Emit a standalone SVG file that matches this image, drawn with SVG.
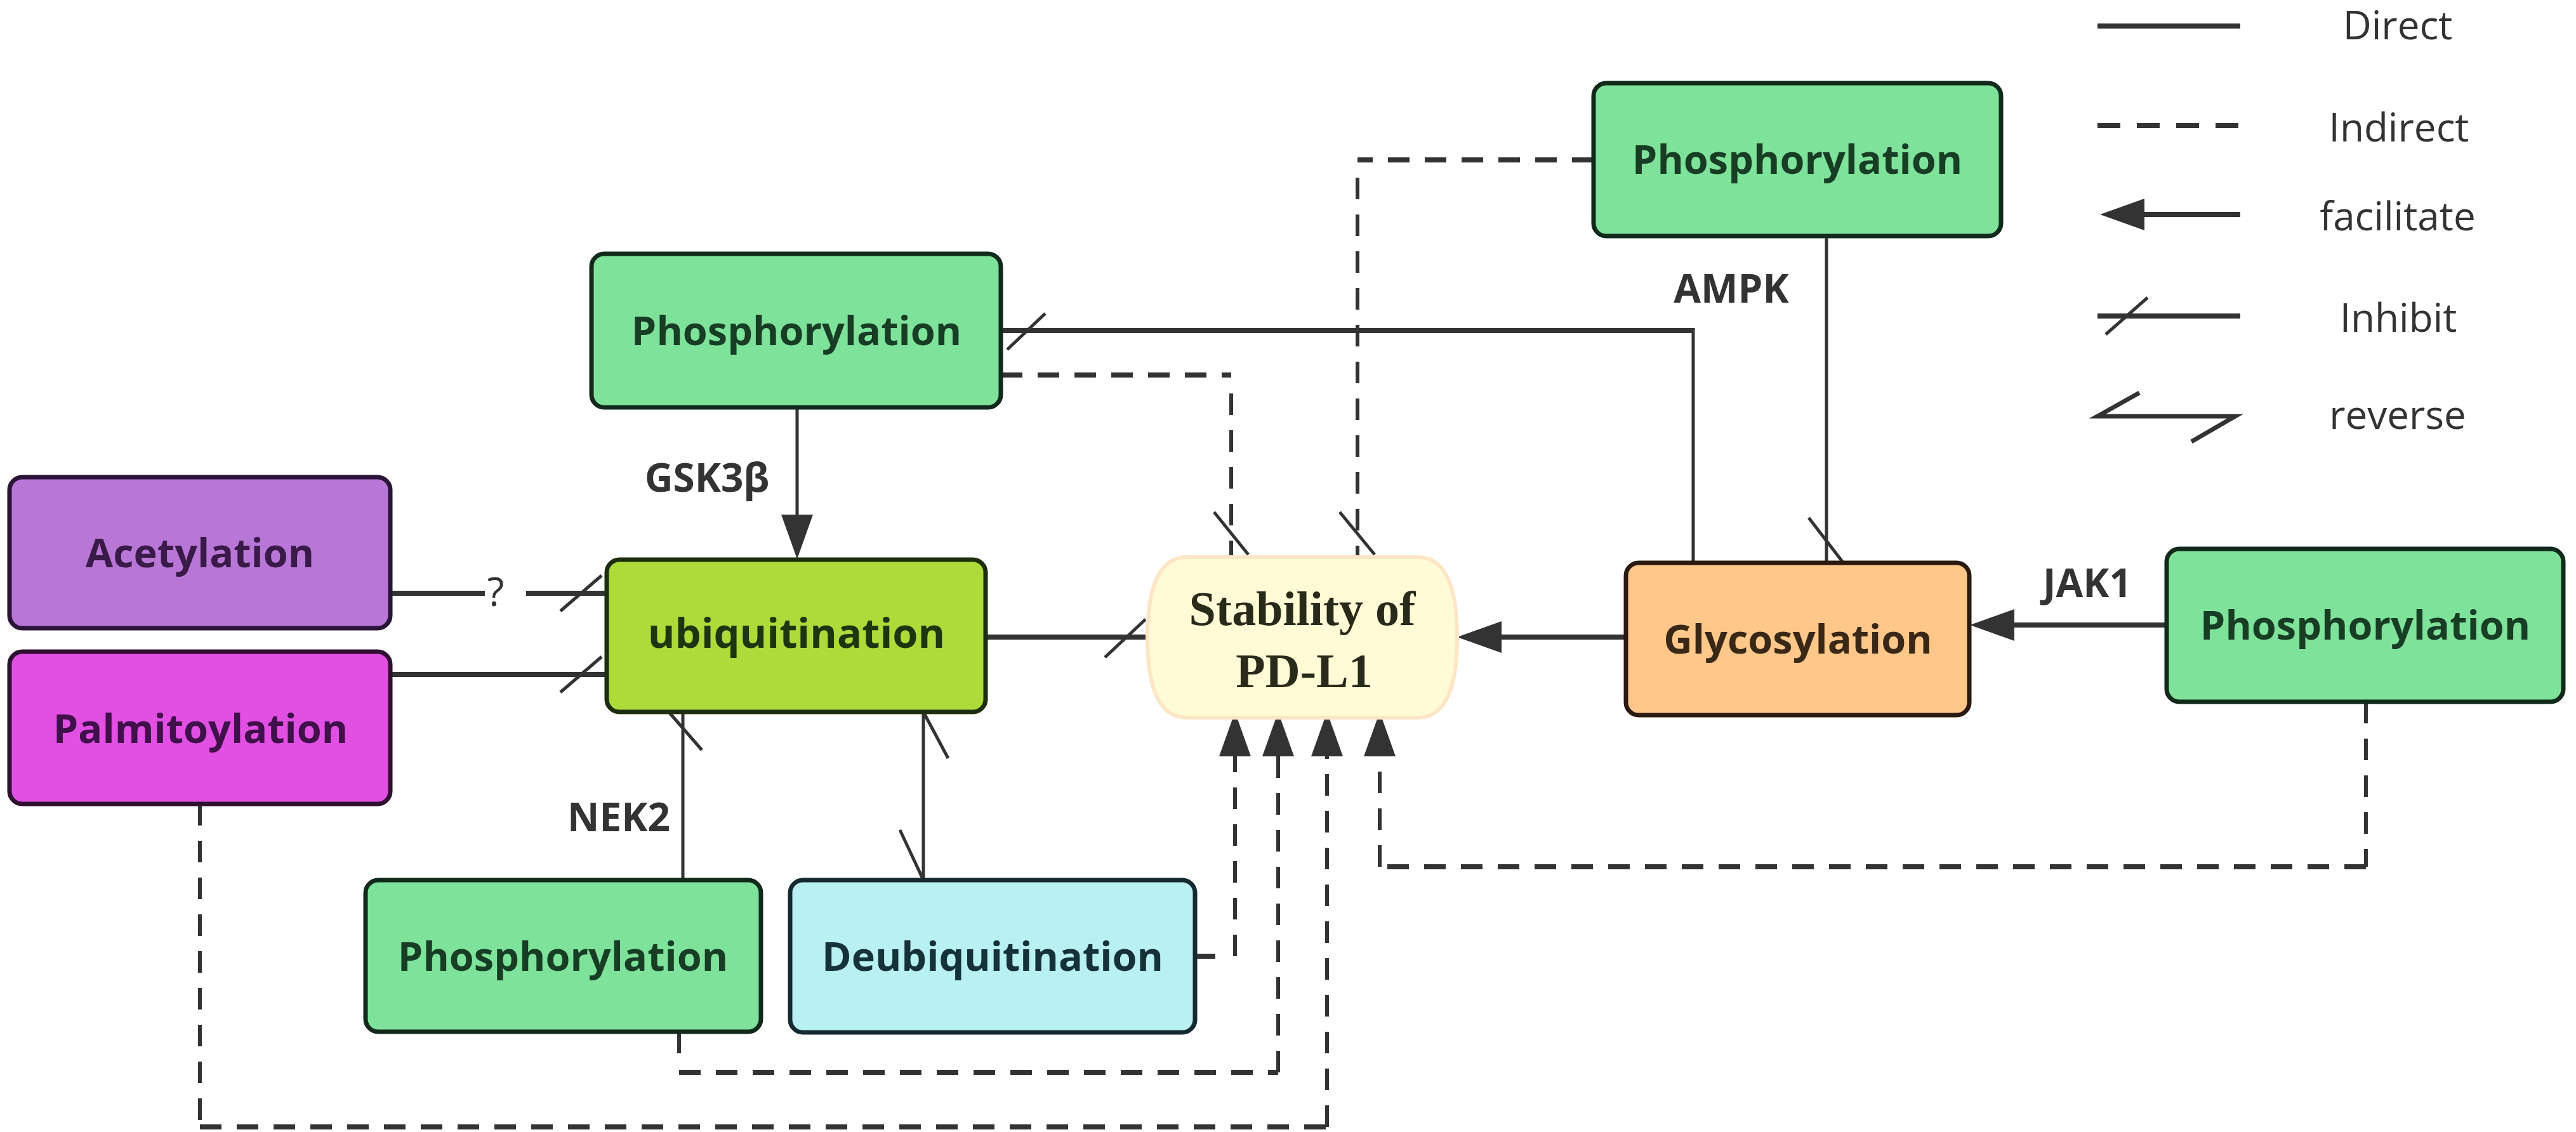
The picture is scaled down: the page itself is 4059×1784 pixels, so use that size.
<svg xmlns="http://www.w3.org/2000/svg" width="4059" height="1784" viewBox="0 0 4059 1784">
<defs>
<style>
.box{stroke-width:7}
.lbl{font-family:"Open Sans","DejaVu Sans",sans-serif;font-weight:700;font-size:63px;text-anchor:middle}
.tag{font-family:"Open Sans","DejaVu Sans",sans-serif;font-weight:700;font-size:62px;fill:#333;text-anchor:middle}
.leg{font-family:"Open Sans","DejaVu Sans",sans-serif;font-weight:400;font-size:62px;fill:#333;text-anchor:middle}
.ln{fill:none;stroke:#333;stroke-width:8}
.thin{fill:none;stroke:#333;stroke-width:5}
.dash{fill:none;stroke:#333;stroke-width:8;stroke-dasharray:34 24}
.vdash{fill:none;stroke:#333;stroke-width:6;stroke-dasharray:34 24}
.arr{marker-end:url(#ah)}
.green rect{fill:#7ee29a;stroke:#112a1b}
.green text{fill:#173d24}
</style>
<marker id="ah" viewBox="0 -25 70 50" refX="0" refY="0" markerWidth="70" markerHeight="50" markerUnits="userSpaceOnUse" orient="auto">
<path d="M0,-25 L70,0 L0,25 Z" fill="#333"/>
</marker>
</defs>
<rect x="0" y="0" width="4059" height="1784" fill="#fff"/>

<g id="connectors">
<!-- solid -->
<path class="ln" d="M1577,521 H2668"/>
<path class="thin" d="M2668,517 V887"/>
<path class="thin" d="M2878,372 V887"/>
<path class="thin arr" d="M1256,642 V811"/>
<path class="ln" d="M616,935 H764 M829,935 H956"/>
<path class="ln" d="M616,1063 H956"/>
<path class="ln" d="M1553,1004 H1808"/>
<path class="ln arr" d="M2562,1004 H2366"/>
<path class="ln arr" d="M3414,985 H3174"/>
<path class="thin" d="M1076,1387 V1122"/>
<path class="thin" d="M1455,1122 V1387 M1455,1122 L1494,1195 M1455,1387 L1418,1308"/>
<!-- dashed -->
<path class="dash" d="M1577,591 H1940"/>
<path class="vdash" d="M1940,620 V878"/>
<path class="dash" d="M2511,252 H2139"/>
<path class="vdash" d="M2139,280 V878"/>
<path class="vdash" d="M3728,1106 V1366"/>
<path class="dash" d="M3728,1366 H2174"/>
<path class="vdash arr" d="M2174,1366 V1192"/>
<path class="ln" d="M1883,1507 H1915"/>
<path class="vdash arr" d="M1946,1507 V1192"/>
<path class="vdash" d="M1070,1626 V1665"/>
<path class="dash" d="M1070,1690 H2014"/>
<path class="vdash arr" d="M2014,1690 V1192"/>
<path class="vdash" d="M315,1267 V1776"/>
<path class="dash" d="M315,1776 H2091"/>
<path class="vdash arr" d="M2091,1776 V1192"/>
<!-- inhibit ticks -->
<path class="thin" d="M1587,551 L1647,494 M1913,807 L1967,874 M2111,807 L2166,874 M2850,816 L2903,885 M883,963 L948,907 M883,1091 L948,1035 M1741,1036 L1805,976 M1052,1120 L1106,1182"/>
<text class="tag" x="781" y="955" style="font-weight:400">?</text>
<text class="tag" x="1114" y="775">GSK3β</text>
<text class="tag" x="2728" y="477">AMPK</text>
<text class="tag" x="975" y="1310">NEK2</text>
<text class="tag" x="3289" y="941">JAK1</text>
</g>

<g id="acetylation">
<rect class="box" x="15" y="752" width="600" height="238" rx="20" fill="#b877d6" stroke="#2a1538"/>
<text class="lbl" x="315" y="894" fill="#3a1a48">Acetylation</text>
</g>
<g id="palmitoylation">
<rect class="box" x="15" y="1027" width="600" height="240" rx="20" fill="#e250e3" stroke="#2f1030"/>
<text class="lbl" x="316" y="1171" fill="#40104a">Palmitoylation</text>
</g>
<g id="ubiquitination">
<rect class="box" x="956" y="882" width="597" height="240" rx="20" fill="#aeda3a" stroke="#1d2e0f"/>
<text class="lbl" x="1255" y="1021" fill="#1f3510" style="font-size:65px">ubiquitination</text>
</g>
<g id="phos-gsk3b" class="green">
<rect class="box" x="932" y="400" width="645" height="242" rx="20"/>
<text class="lbl" x="1255" y="544">Phosphorylation</text>
</g>
<g id="phos-ampk" class="green">
<rect class="box" x="2511" y="131" width="642" height="241" rx="20"/>
<text class="lbl" x="2832" y="274">Phosphorylation</text>
</g>
<g id="phos-jak1" class="green">
<rect class="box" x="3414" y="865" width="625" height="241" rx="20"/>
<text class="lbl" x="3727" y="1008">Phosphorylation</text>
</g>
<g id="phos-nek2" class="green">
<rect class="box" x="576" y="1387" width="623" height="239" rx="20"/>
<text class="lbl" x="887" y="1530">Phosphorylation</text>
</g>
<g id="deubiquitination">
<rect class="box" x="1245" y="1387" width="638" height="240" rx="20" fill="#b9f0f2" stroke="#152a30"/>
<text class="lbl" x="1564" y="1530" fill="#153238">Deubiquitination</text>
</g>
<g id="glycosylation">
<rect class="box" x="2562" y="887" width="541" height="240" rx="20" fill="#ffc88a" stroke="#2a1a10"/>
<text class="lbl" x="2833" y="1030" fill="#3a2817">Glycosylation</text>
</g>
<g id="stability">
<path d="M1870,878 H2234 C2280,878 2296,930 2296,1005 C2296,1080 2280,1131 2234,1131 H1870 C1824,1131 1808,1080 1808,1005 C1808,930 1824,878 1870,878 Z" fill="#fffbd6" stroke="#fde6c6" stroke-width="6"/>
<text x="2052" y="985" font-family="'Liberation Serif','Times New Roman',serif" font-weight="700" font-size="76" fill="#2a2a1a" text-anchor="middle">Stability of</text>
<text x="2055" y="1083" font-family="'Liberation Serif','Times New Roman',serif" font-weight="700" font-size="76" fill="#2a2a1a" text-anchor="middle">PD-L1</text>
</g>

<g id="legend">
<path class="ln" d="M3305,41 H3530"/>
<text class="leg" x="3778" y="62">Direct</text>
<path class="dash" d="M3305,198 H3530" style="stroke-dasharray:36 26"/>
<text class="leg" x="3780" y="223">Indirect</text>
<path class="ln arr" d="M3530,338 H3379"/>
<text class="leg" x="3778" y="363">facilitate</text>
<path class="ln" d="M3305,498 H3530"/>
<path class="thin" d="M3318,527 L3384,469"/>
<text class="leg" x="3779" y="523">Inhibit</text>
<path class="thin" d="M3371,619 L3305,656 H3522 L3453,696" style="stroke-width:7"/>
<text class="leg" x="3778" y="676">reverse</text>
</g>
</svg>
